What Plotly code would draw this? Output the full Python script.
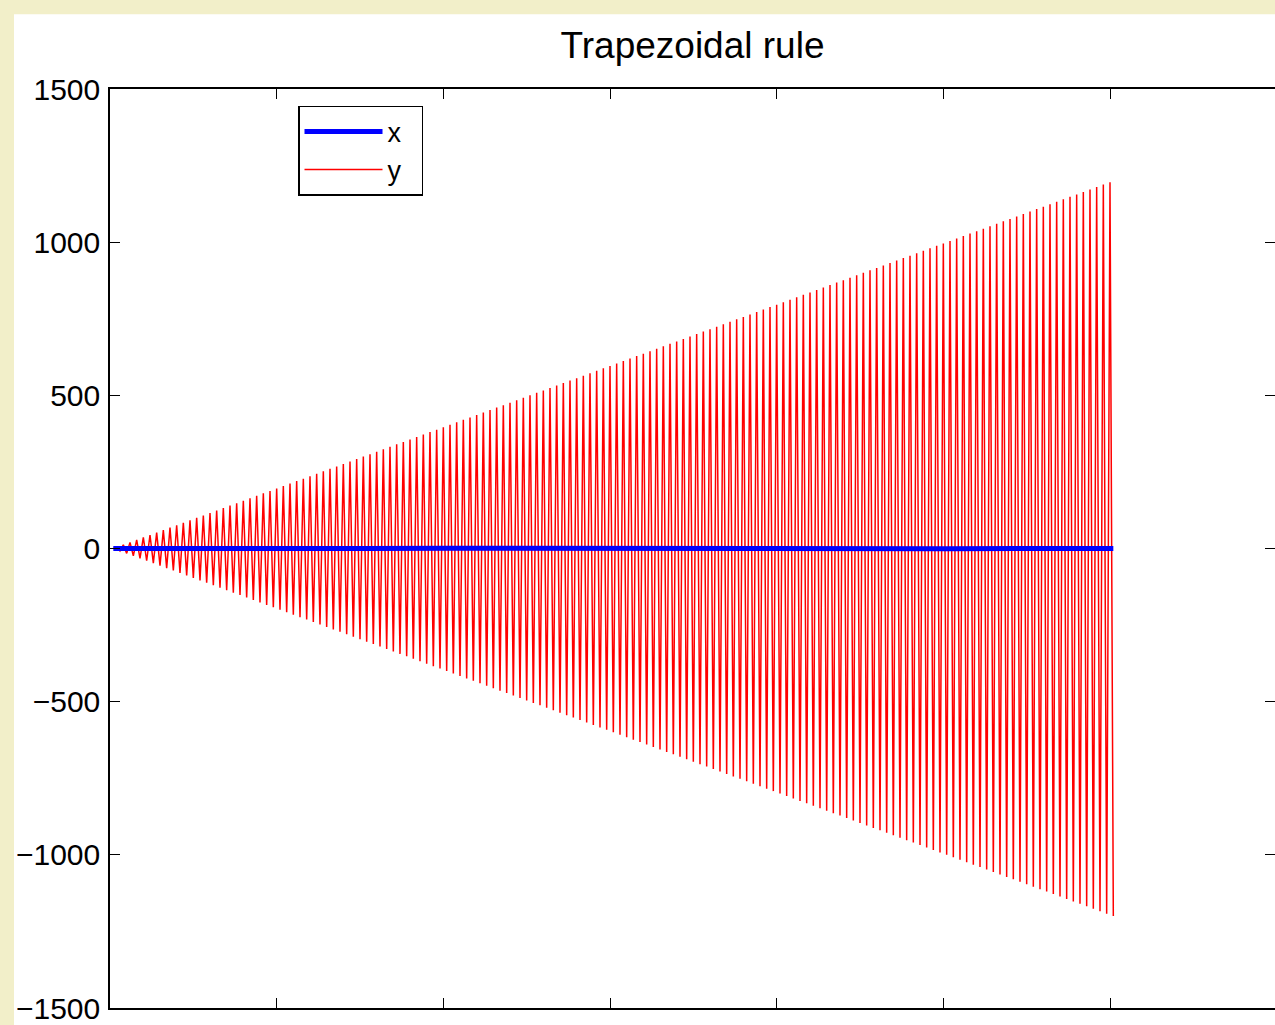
import plotly.graph_objects as go

# step index
steps = list(range(1, 302))

# red series "y" (alternating, growing amplitude)
y_vals = [
    0, 4, -8, 12, -16, 20, -24, 28, -32, 36,
    -40, 44, -48, 52, -56, 60, -64, 68, -72, 76,
    -80, 84, -88, 92, -96, 100, -104, 108, -112, 116,
    -120, 124, -128, 132, -136, 140, -144, 148, -152, 156,
    -160, 164, -168, 172, -176, 180, -184, 188, -192, 196,
    -200, 204, -208, 212, -216, 220, -224, 228, -232, 236,
    -240, 244, -248, 252, -256, 260, -264, 268, -272, 276,
    -280, 284, -288, 292, -296, 300, -304, 308, -312, 316,
    -320, 324, -328, 332, -336, 340, -344, 348, -352, 356,
    -360, 364, -368, 372, -376, 380, -384, 388, -392, 396,
    -400, 404, -408, 412, -416, 420, -424, 428, -432, 436,
    -440, 444, -448, 452, -456, 460, -464, 468, -472, 476,
    -480, 484, -488, 492, -496, 500, -504, 508, -512, 516,
    -520, 524, -528, 532, -536, 540, -544, 548, -552, 556,
    -560, 564, -568, 572, -576, 580, -584, 588, -592, 596,
    -600, 604, -608, 612, -616, 620, -624, 628, -632, 636,
    -640, 644, -648, 652, -656, 660, -664, 668, -672, 676,
    -680, 684, -688, 692, -696, 700, -704, 708, -712, 716,
    -720, 724, -728, 732, -736, 740, -744, 748, -752, 756,
    -760, 764, -768, 772, -776, 780, -784, 788, -792, 796,
    -800, 804, -808, 812, -816, 820, -824, 828, -832, 836,
    -840, 844, -848, 852, -856, 860, -864, 868, -872, 876,
    -880, 884, -888, 892, -896, 900, -904, 908, -912, 916,
    -920, 924, -928, 932, -936, 940, -944, 948, -952, 956,
    -960, 964, -968, 972, -976, 980, -984, 988, -992, 996,
    -1000, 1004, -1008, 1012, -1016, 1020, -1024, 1028, -1032, 1036,
    -1040, 1044, -1048, 1052, -1056, 1060, -1064, 1068, -1072, 1076,
    -1080, 1084, -1088, 1092, -1096, 1100, -1104, 1108, -1112, 1116,
    -1120, 1124, -1128, 1132, -1136, 1140, -1144, 1148, -1152, 1156,
    -1160, 1164, -1168, 1172, -1176, 1180, -1184, 1188, -1192, 1196,
    -1200,
]

# blue series "x" (stays near zero), sampled
x_steps = [1, 26, 51, 76, 101, 126, 151, 176, 201, 226, 251, 276, 301]
x_vals = [0, -1, 0, 0, 1, 0, -1, 1, 1, 0, -1, 0, 0]

y_ticks = [-1500, -1000, -500, 0, 500, 1000, 1500]
x_ticks = [0, 50, 100, 150, 200, 250, 300, 350]

FONT = "Liberation Sans, Arial, Helvetica, sans-serif"

fig = go.Figure()
fig.add_trace(go.Scatter(x=steps, y=y_vals, mode="lines", name="y\u00a0\u00a0",
                         line=dict(color="#FF0000", width=1.5)))
fig.add_trace(go.Scatter(x=x_steps, y=x_vals, mode="lines", name="x\u00a0\u00a0",
                         line=dict(color="#0000FF", width=5)))
# invisible trace to carry the right-hand tick axis
fig.add_trace(go.Scatter(x=[steps[0]], y=[0], yaxis="y2", mode="lines",
                         showlegend=False, hoverinfo="skip",
                         line=dict(width=0)))

L, T, B = 110, 89, 15
W, H = 1275, 1025
pw = W - L
ph = H - T - B

fig.update_layout(
    width=W, height=H,
    margin=dict(l=L, r=0, t=T, b=B, pad=0),
    paper_bgcolor="#F2EFC9",
    plot_bgcolor="white",
    font=dict(family=FONT, size=30, color="black"),
    title=dict(text="Trapezoidal rule", x=0.5, xref="paper", xanchor="center",
               y=1 - 45 / H, yref="container", yanchor="middle",
               font=dict(size=37, family=FONT, color="black")),
    showlegend=True,
    legend=dict(x=(298 - L) / pw, y=(H - B - 106) / ph, xanchor="left", yanchor="top",
                bgcolor="white", bordercolor="black", borderwidth=1.5,
                traceorder="reversed", itemwidth=78,
                font=dict(size=27, family=FONT, color="black")),
    xaxis=dict(range=[0, pw / (1000 / 300)], tickvals=x_ticks, showticklabels=False,
               ticks="inside", ticklen=10, tickwidth=1.2, tickcolor="black",
               showline=True, linecolor="black", linewidth=1.5, mirror="ticks",
               showgrid=False, zeroline=False, fixedrange=True),
    yaxis=dict(range=[-1500, 1500], tickvals=y_ticks,
               ticks="inside", ticklen=10, tickwidth=1.2, tickcolor="black",
               showline=True, linecolor="black", linewidth=1.5, mirror=False,
               showgrid=False, zeroline=False, ticklabelstandoff=2,
               ticklabeloverflow="allow",
               tickfont=dict(size=30, family=FONT, color="black")),
    yaxis2=dict(range=[-1500, 1500], tickvals=y_ticks, overlaying="y", side="right",
                anchor="x", showticklabels=False,
                ticks="inside", ticklen=10, tickwidth=1.2, tickcolor="black",
                showline=False, showgrid=False, zeroline=False),
    shapes=[dict(type="rect", xref="paper", yref="paper", layer="below",
                 x0=(14 - L) / pw, x1=1.01, y0=-B / ph - 0.01, y1=(H - B - 14) / ph,
                 fillcolor="white", line=dict(width=0))],
)

fig.write_html("out.html", config={"displayModeBar": False},
               post_script="document.body.style.margin='0';document.body.style.overflow='hidden';")
